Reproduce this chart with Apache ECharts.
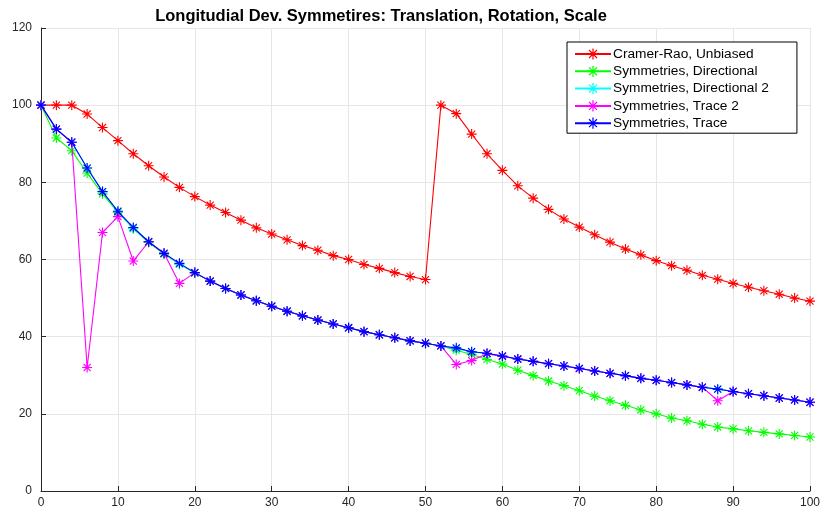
<!DOCTYPE html>
<html>
<head>
<meta charset="utf-8">
<script src="https://cdn.jsdelivr.net/npm/echarts@6/dist/echarts.min.js"></script>
<style>
  html, body { margin: 0; padding: 0; background: #fff; }
  #chart { width: 824px; height: 514px; }
</style>
</head>
<body>
<div id="chart"></div>
<script>
// Sample positions along the track
const xValues = [0, 2, 4, 6, 8, 10, 12, 14, 16, 18, 20, 22, 24, 26, 28, 30, 32, 34, 36, 38, 40,
  42, 44, 46, 48, 50, 52, 54, 56, 58, 60, 62, 64, 66, 68, 70, 72, 74, 76, 78, 80,
  82, 84, 86, 88, 90, 92, 94, 96, 98, 100];

const cramerRao = [100, 100, 100, 97.7, 94.2, 90.8, 87.4, 84.3, 81.4, 78.7, 76.3, 74.1, 72.2, 70.2, 68.2, 66.6,
  65.1, 63.6, 62.4, 61.0, 60.0, 58.7, 57.7, 56.6, 55.6, 54.8,
  100, 97.8, 92.5, 87.4, 83.1, 79.1, 75.9, 73.0, 70.5, 68.4, 66.4, 64.5, 62.7, 61.2, 59.7,
  58.4, 57.2, 55.9, 54.9, 53.8, 52.8, 51.9, 51.0, 50.0, 49.2];

const directional = [100, 91.5, 88.2, 82.4, 77.0, 72.2, 68.0, 64.4, 61.4, 58.8, 56.5, 54.4, 52.5, 50.8, 49.3, 47.9,
  46.6, 45.4, 44.3, 43.3, 42.3, 41.3, 40.5, 39.7, 38.9, 38.3,
  37.6, 36.5, 35.4, 34.1, 32.9, 31.3, 29.9, 28.5, 27.3, 26.0, 24.6, 23.4, 22.2, 21.0, 20.0,
  18.9, 18.2, 17.3, 16.6, 16.1, 15.6, 15.2, 14.8, 14.4, 14.0];

const directional2 = [100, 93.8, 90.4, 83.7, 77.6, 72.4, 68.1, 64.6, 61.6, 58.8, 56.6, 54.4, 52.5, 50.8, 49.3, 47.9,
  46.6, 45.4, 44.3, 43.3, 42.3, 41.3, 40.5, 39.7, 38.9, 38.3,
  37.6, 36.9, 36.1, 35.6, 34.9, 34.2, 33.6, 33.0, 32.4, 31.8, 31.1, 30.5, 29.9, 29.2, 28.7,
  28.1, 27.5, 26.9, 26.4, 25.8, 25.2, 24.7, 24.1, 23.6, 23.0];

const trace2 = [100, 93.8, 90.4, 32.0, 67.0, 71.1, 59.6, 64.6, 61.6, 53.8, 56.6, 54.4, 52.5, 50.8, 49.3, 47.9,
  46.6, 45.4, 44.3, 43.3, 42.3, 41.3, 40.5, 39.7, 38.9, 38.3,
  37.6, 32.8, 33.8, 35.6, 34.9, 34.2, 33.6, 33.0, 32.4, 31.7, 31.1, 30.5, 29.9, 29.2, 28.7,
  28.1, 27.5, 26.9, 23.4, 25.8, 25.2, 24.7, 24.1, 23.6, 23.0];

const trace = [100, 93.8, 90.4, 83.7, 77.6, 72.5, 68.3, 64.6, 61.6, 59.0, 56.6, 54.4, 52.5, 50.8, 49.3, 47.9,
  46.6, 45.4, 44.3, 43.3, 42.3, 41.3, 40.5, 39.7, 38.9, 38.3,
  37.6, 37.1, 36.1, 35.7, 35.0, 34.2, 33.6, 33.0, 32.4, 31.8, 31.1, 30.5, 29.9, 29.2, 28.7,
  28.1, 27.5, 26.9, 26.4, 25.8, 25.2, 24.7, 24.1, 23.6, 23.0];

const xTicks = [0, 10, 20, 30, 40, 50, 60, 70, 80, 90, 100];
const yTicks = [0, 20, 40, 60, 80, 100, 120];

const seriesNames = ['Cramer-Rao, Unbiased', 'Symmetries, Directional', 'Symmetries, Directional 2',
  'Symmetries, Trace 2', 'Symmetries, Trace'];
const seriesColors = ['#ff0000', '#00ff00', '#00ffff', '#ff00ff', '#0000ff'];
const seriesValues = [cramerRao, directional, directional2, trace2, trace];

// Eight-spoke asterisk marker built from thin bars
function asterisk() {
  const w = 1.1, r = 10;
  const bars = [];
  for (let k = 0; k < 4; k++) {
    const a = k * Math.PI / 4;
    const c = Math.cos(a), s = Math.sin(a);
    const pts = [[-r, -w], [r, -w], [r, w], [-r, w]].map(([px, py]) =>
      [(px * c - py * s).toFixed(3), (px * s + py * c).toFixed(3)]);
    bars.push('M' + pts.map(p => p.join(',')).join(' L') + ' Z');
  }
  return 'path://' + bars.join(' ');
}
const starSymbol = asterisk();

const chart = echarts.init(document.getElementById('chart'), null, { renderer: 'canvas' });

const series = seriesNames.map((name, i) => ({
  name: name,
  type: 'line',
  data: xValues.map((x, j) => [x, seriesValues[i][j]]),
  symbol: starSymbol,
  symbolSize: 10,
  showAllSymbol: true,
  z: 2 + i,
  lineStyle: { color: seriesColors[i], width: 1.1 },
  itemStyle: { color: seriesColors[i] },
  emphasis: { disabled: true },
  animation: false
}));

const axisText = { color: '#262626', fontFamily: 'Liberation Sans, Arial, sans-serif', fontSize: 12 };

chart.setOption({
  backgroundColor: '#ffffff',
  animation: false,
  title: {
    text: 'Longitudial Dev. Symmetires: Translation, Rotation, Scale',
    left: 376,
    textAlign: 'center',
    top: 3,
    textStyle: { fontFamily: 'Liberation Sans, Arial, sans-serif', fontSize: 16.5, fontWeight: 'bold', color: '#000' }
  },
  legend: {
    data: seriesNames,
    orient: 'vertical',
    left: 567,
    top: 42,
    padding: [5, 28, 3, 7],
    itemGap: 3.3,
    itemWidth: 36,
    itemHeight: 14,
    borderColor: '#000',
    borderWidth: 1,
    backgroundColor: '#fff',
    textStyle: { fontFamily: 'Liberation Sans, Arial, sans-serif', fontSize: 13.7, color: '#000', padding: [0, 0, 0, -3] }
  },
  grid: { left: 41, right: 14, top: 28, bottom: 23, containLabel: false },
  xAxis: {
    type: 'value',
    min: 0, max: 100, interval: 10,
    axisLine: { lineStyle: { color: '#262626', width: 1 } },
    axisTick: { inside: true, length: 5, lineStyle: { color: '#262626' } },
    axisLabel: Object.assign({ margin: 6, formatter: v => (xTicks.includes(v) ? String(v) : '') }, axisText),
    splitLine: { show: true, lineStyle: { color: '#e6e6e6', width: 1 } }
  },
  yAxis: {
    type: 'value',
    min: 0, max: 120, interval: 20,
    axisLine: { show: true, lineStyle: { color: '#262626', width: 1 } },
    axisTick: { show: true, inside: true, length: 5, lineStyle: { color: '#262626' } },
    axisLabel: Object.assign({ margin: 9, formatter: v => (yTicks.includes(v) ? String(v) : '') }, axisText),
    splitLine: { show: true, lineStyle: { color: '#e6e6e6', width: 1 } }
  },
  series: series
});
</script>
</body>
</html>
